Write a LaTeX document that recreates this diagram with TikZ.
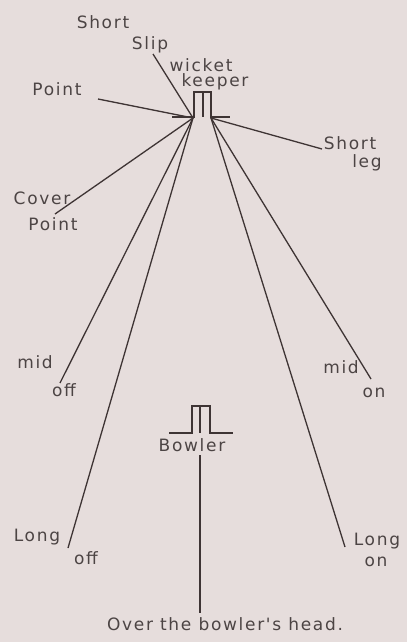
\documentclass[tikz,border=0pt]{standalone}
\usepackage{fontspec}
\usepackage{tikz}
\newfontfamily\handfont{DejaVu Sans}[LetterSpace=10]
\definecolor{paper}{HTML}{E6DDDC}
\definecolor{ink}{HTML}{3E3434}
\definecolor{pencil}{HTML}{4C4444}
\tikzset{
  fielder/.style={pencil, font=\handfont\fontsize{17}{18}\selectfont, inner sep=0pt},
  hit/.style={ink, line width=1.3pt},
  stumps/.style={ink, line width=1.1pt}
}

\begin{document}
\begin{tikzpicture}[x=1pt,y=-1pt]
            \fill[paper] (0,0) rectangle (407,642);
            \useasboundingbox (0,0) rectangle (407,642);
            % wicket at the batsman's end
            \draw[stumps] (172,117) -- (194,117) -- (194,92) -- (211,92) -- (211,117) -- (230,117);
            \draw[stumps] (203,92) -- (203,117);
            \coordinate (wl) at (193,118);
            \coordinate (wr) at (211,118);
            % wicket at the bowler's end
            \draw[stumps] (169,433) -- (192,433) -- (192,406) -- (210,406) -- (210,433) -- (233,433);
            \draw[stumps] (200,406) -- (200,433);
            % fielders
            \node[fielder] (slipa) at (103,22) {Short};
            \node[fielder] (slipb) at (150,45) {Slip};
            \node[fielder] (keepa) at (201,65) {wicket};
            \node[fielder] (keepb) at (215,82) {keeper};
            \node[fielder] (point) at (57,89) {Point};
            \node[fielder] (lega) at (350,143) {Short};
            \node[fielder] (legb) at (367,163) {leg};
            \node[fielder] (covera) at (42,198) {Cover};
            \node[fielder] (coverb) at (53,224) {Point};
            \node[fielder] (midoffa) at (35,362) {mid};
            \node[fielder] (midoffb) at (64,390) {off};
            \node[fielder] (midona) at (341,367) {mid};
            \node[fielder] (midonb) at (374,393) {on};
            \node[fielder] (longoffa) at (37,537) {Long};
            \node[fielder] (longoffb) at (86,558) {off};
            \node[fielder] (longona) at (377,541) {Long};
            \node[fielder] (longonb) at (376,562) {on};
            \node[fielder] (bowler) at (192,445) {Bowler};
            \node[fielder] (over) at (225,624) {Over the bowler's head.};
            % ends of the hits
            \coordinate (slipend) at (153,54);
            \coordinate (pointend) at (98,99);
            \coordinate (legend) at (322,149);
            \coordinate (coverend) at (55,214);
            \coordinate (midoffend) at (60,383);
            \coordinate (longoffend) at (68,548);
            \coordinate (midonend) at (371,379);
            \coordinate (longonend) at (345,547);
            \coordinate (bowltop) at (200,455);
            \coordinate (bowlend) at (200,613);
            \draw[hit] (slipend) -- (wl);
            \draw[hit] (pointend) -- (wl);
            \draw[hit] (coverend) -- (wl);
            \draw[hit] (midoffend) -- (wl);
            \draw[hit] (longoffend) -- (wl);
            \draw[hit] (legend) -- (wr);
            \draw[hit] (midonend) -- (wr);
            \draw[hit] (longonend) -- (wr);
            \draw[hit] (bowltop) -- (bowlend);
\end{tikzpicture}
\end{document}
